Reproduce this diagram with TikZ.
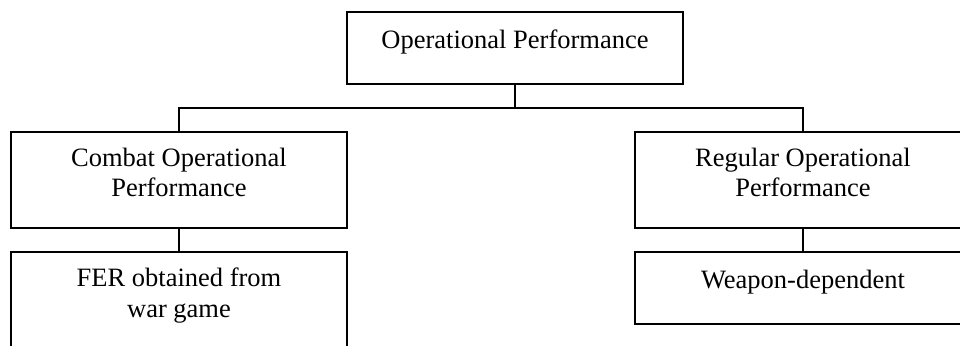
\documentclass[tikz,border=0pt]{standalone}
\usepackage{fontspec}
\setmainfont{Liberation Serif}
\begin{document}
\begin{tikzpicture}[x=1pt,y=-1pt,
  box/.style={draw=black, line width=1.6pt, rectangle, inner sep=0pt, minimum width=336pt},
  lbl/.style={anchor=north, inner sep=0pt, align=center, font=\fontsize{26.5}{30.5}\selectfont},
  link/.style={draw=black, line width=1.6pt}]
\useasboundingbox (0,0) rectangle (960,345);
\clip (0,0) rectangle (960,345);

% boxes
\node[box, minimum height=72pt] (top) at (515,48) {};
\node[box, minimum height=96pt] (combat) at (179,180) {};
\node[box, minimum height=96pt] (fer) at (179,300) {};
\node[box, minimum height=96pt] (regular) at (803,180) {};
\node[box, minimum height=72pt] (weapon) at (803,288) {};

% labels, set at the top of each box
\node[lbl] (toplbl) at (515,29.2) {Operational Performance};
\node[lbl] (combatlbl) at (179,147.6) {Combat Operational\\Performance};
\node[lbl] (ferlbl) at (179,267.8) {FER obtained from\\war game};
\node[lbl] (regularlbl) at (803,147.6) {Regular Operational\\Performance};
\node[lbl] (weaponlbl) at (803,269.6) {Weapon-dependent};

% tree connectors
\path (top.south) -- (top.south |- combat.north) coordinate[midway] (bus);
\draw[link] (top.south) -- (bus);
\draw[link] (combat.north) |- (bus) -| (regular.north);
\draw[link] (combat.south) -- (fer.north);
\draw[link] (regular.south) -- (weapon.north);
\end{tikzpicture}
\end{document}
